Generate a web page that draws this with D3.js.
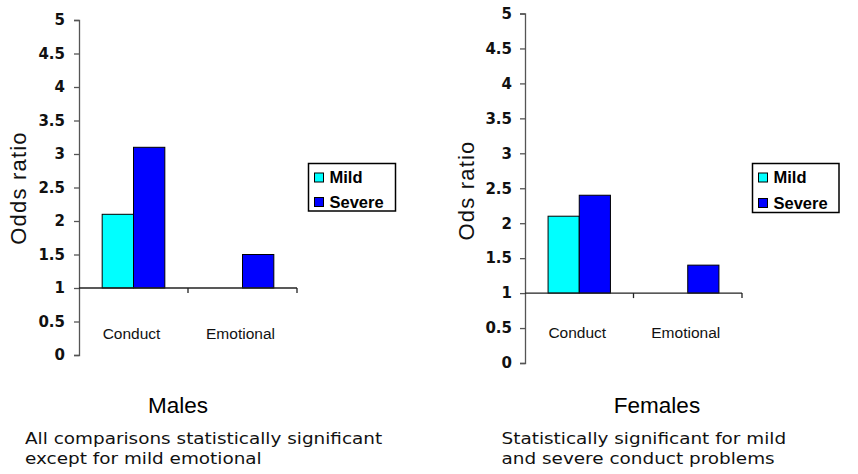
<!DOCTYPE html>
<html>
  <head>
    <title>Odds ratio by sex</title>
    <script src="https://d3js.org/d3.v7.min.js"></script>
    <style>
      body { margin: 0; background: #fff; }
      .tick-label { font-family: "DejaVu Sans", sans-serif; font-weight: bold; font-size: 15px; fill: #111; }
      .cat-label { font-family: "Liberation Sans", Arial, sans-serif; font-size: 15.5px; fill: #111; }
      .y-label { font-family: "Liberation Sans", Arial, sans-serif; font-size: 22px; letter-spacing: 1.2px; fill: #111; }
      .legend text { font-family: "Liberation Sans", Arial, sans-serif; font-weight: bold; font-size: 16.5px; fill: #000; }
      .title { font-family: "Liberation Sans", Arial, sans-serif; font-size: 22.5px; fill: #000; }
      .note { font-family: "DejaVu Sans", sans-serif; font-size: 16.3px; fill: #111; }
    </style>
  </head>
  <body>
    <svg width="858" height="474"></svg>
    <script>
      // data
      const categories = ["Conduct", "Emotional"];
      const seriesNames = ["Mild", "Severe"];
      const seriesColors = ["#00FFFF", "#0000FF"];
      const malesMild = [2.1, 1];
      const malesSevere = [3.1, 1.5];
      const femalesMild = [2.1, 1];
      const femalesSevere = [2.4, 1.4];
      const yTicks = [0, 0.5, 1, 1.5, 2, 2.5, 3, 3.5, 4, 4.5, 5];
      const baseline = 1;

      const svg = d3.select("svg");

      function drawPanel(props) {
        const g = svg.append("g");
        const y = d3.scaleLinear().domain([0, 5]).range([props.yBottom, props.yTop]);
        const x0 = d3.scaleBand()
          .domain(categories)
          .range([props.xLeft, props.xRight]);
        const x1 = d3.scaleBand()
          .domain(seriesNames)
          .range([0, x0.bandwidth()])
          .paddingOuter(0.74);

        // y axis
        const yAxis = d3.axisLeft(y)
          .tickValues(yTicks)
          .tickSize(5)
          .tickPadding(props.tickPadding)
          .tickFormat(d => String(d));
        const yG = g.append("g")
          .attr("transform", `translate(${props.xLeft},0)`)
          .call(yAxis);
        yG.select(".domain").attr("stroke", "#555").attr("stroke-width", 1.3);
        yG.selectAll(".tick line").attr("stroke", "#555").attr("stroke-width", 1.3);
        yG.selectAll(".tick text")
          .attr("class", "tick-label")
          .attr("fill", null);

        // bars
        const rows = categories.map((c, i) => ({
          cat: c,
          values: [props.mild[i], props.severe[i]]
        }));
        const catG = g.selectAll(".cat")
          .data(rows)
          .enter().append("g")
            .attr("class", "cat")
            .attr("transform", d => `translate(${x0(d.cat)},0)`);
        catG.selectAll("rect")
          .data(d => d.values.map((v, i) => ({ key: seriesNames[i], v: v, i: i })))
          .enter().append("rect")
            .filter(d => d.v !== baseline)
            .attr("x", d => x1(d.key))
            .attr("width", x1.bandwidth())
            .attr("y", d => y(Math.max(d.v, baseline)))
            .attr("height", d => Math.abs(y(d.v) - y(baseline)))
            .attr("fill", d => seriesColors[d.i])
            .attr("stroke", "#000")
            .attr("stroke-width", 1);

        // x axis at odds ratio 1
        const xG = g.append("g")
          .attr("transform", `translate(0,${y(baseline)})`);
        xG.append("line")
          .attr("x1", props.xLeft).attr("x2", props.xRight)
          .attr("stroke", "#222").attr("stroke-width", 1.3);
        xG.selectAll(".sep")
          .data(categories.slice(1).map(c => x0(c)).concat([props.xRight]))
          .enter().append("line")
            .attr("x1", d => d).attr("x2", d => d)
            .attr("y1", 0).attr("y2", 5)
            .attr("stroke", "#222").attr("stroke-width", 1.3);
        g.selectAll(".cat-label")
          .data(categories)
          .enter().append("text")
            .attr("class", "cat-label")
            .attr("x", d => x0(d) + x0.bandwidth() / 2 - 2)
            .attr("y", y(baseline) + props.catDy)
            .attr("text-anchor", "middle")
            .text(d => d);

        // y title
        g.append("text")
          .attr("class", "y-label")
          .attr("transform", `translate(${props.yLabelX},${props.yLabelY}) rotate(-90)`)
          .attr("text-anchor", "middle")
          .attr("dy", "0.35em")
          .text(props.yLabel);

        // legend
        const lg = g.append("g")
          .attr("class", "legend")
          .attr("transform", `translate(${props.legendX},${props.legendY})`);
        lg.append("rect")
          .attr("width", props.legendW).attr("height", props.legendH)
          .attr("fill", "#fff").attr("stroke", "#000").attr("stroke-width", 1.5);
        const items = lg.selectAll(".item")
          .data(seriesNames)
          .enter().append("g")
            .attr("class", "item")
            .attr("transform", (d, i) => `translate(6,${9.5 + i * props.legendStep})`);
        items.append("rect")
          .attr("width", 9).attr("height", 9)
          .attr("fill", (d, i) => seriesColors[i])
          .attr("stroke", "#000").attr("stroke-width", 1);
        items.append("text")
          .attr("x", 15).attr("y", 10)
          .text(d => d);

        // panel title and note
        g.append("text")
          .attr("class", "title")
          .attr("x", props.titleX).attr("y", 413)
          .attr("text-anchor", "middle")
          .text(props.title);
        g.selectAll(".note")
          .data(props.note)
          .enter().append("text")
            .attr("class", "note")
            .attr("transform", (d, i) => `translate(${props.noteX},${444 + i * 19.5}) scale(1.13,1)`)
            .text(d => d);
      }

      drawPanel({
        mild: malesMild, severe: malesSevere,
        xLeft: 79, xRight: 297, yTop: 20, yBottom: 355,
        tickPadding: 9, catDy: 51,
        yLabel: "Odds ratio", yLabelX: 18, yLabelY: 188,
        legendX: 308.5, legendY: 163.5, legendW: 87, legendH: 47.5, legendStep: 24.5,
        title: "Males", titleX: 178,
        note: ["All comparisons statistically significant", "except for mild emotional"], noteX: 25
      });

      drawPanel({
        mild: femalesMild, severe: femalesSevere,
        xLeft: 525, xRight: 742, yTop: 13.5, yBottom: 363,
        tickPadding: 8, catDy: 44.5,
        yLabel: "Ods ratio", yLabelX: 466.5, yLabelY: 190.5,
        legendX: 752.5, legendY: 163.5, legendW: 86.5, legendH: 49, legendStep: 25.5,
        title: "Females", titleX: 657,
        note: ["Statistically significant for mild", "and severe conduct problems"], noteX: 501.5
      });
    </script>
  </body>
</html>
